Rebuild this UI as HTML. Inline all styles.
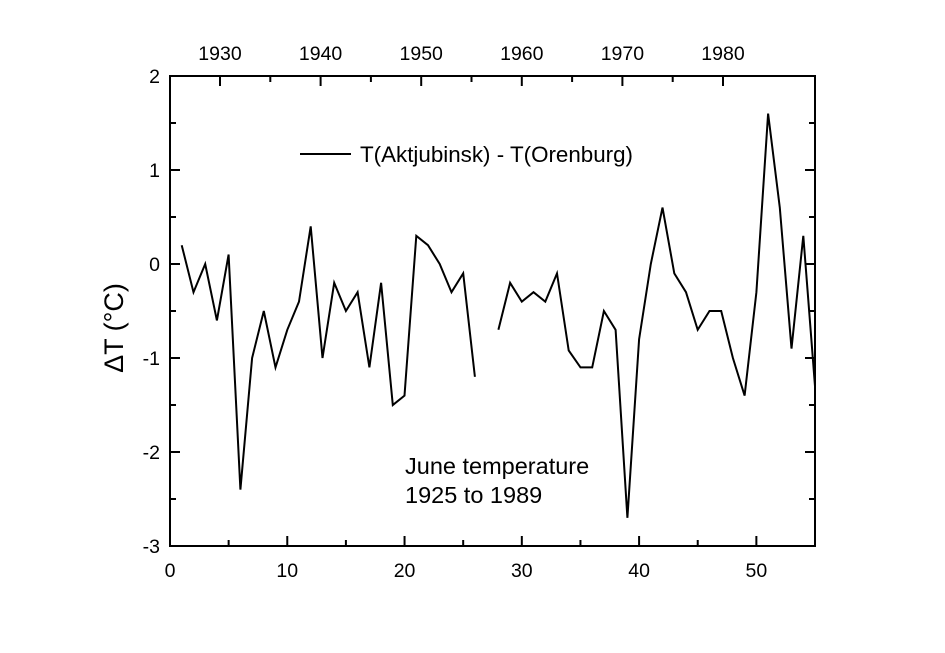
<!DOCTYPE html>
<html><head><meta charset="utf-8">
<style>
html,body{margin:0;padding:0;background:#fff;}
svg{display:block;font-family:"Liberation Sans",Arial,sans-serif;}
</style></head>
<body>
<svg id="chart" width="945" height="653" viewBox="0 0 945 653" xmlns="http://www.w3.org/2000/svg">
<rect x="0" y="0" width="945" height="653" fill="#fff"/>
<g id="axes"></g>
<g id="series"></g>
<text x="0" y="0" transform="translate(123,328) rotate(-90)" text-anchor="middle" font-size="27">ΔT (°C)</text>
<line x1="300" y1="154" x2="351" y2="154" stroke="#000" stroke-width="2"/>
<text x="360" y="162" font-size="22" textLength="273" lengthAdjust="spacingAndGlyphs">T(Aktjubinsk) - T(Orenburg)</text>
<text x="405" y="474" font-size="23.5">June temperature</text>
<text x="405" y="503" font-size="23.5">1925 to 1989</text>
</svg>
<script>
const xValues = [1,2,3,4,5,6,7,8,9,10,11,12,13,14,15,16,17,18,19,20,21,22,23,24,25,26,27,28,29,30,31,32,33,34,35,36,37,38,39,40,41,42,43,44,45,46,47,48,49,50,51,52,53,54,55];
const dtValues = [0.2,-0.3,0,-0.6,0.1,-2.4,-1.0,-0.5,-1.1,-0.7,-0.4,0.4,-1.0,-0.2,-0.5,-0.3,-1.1,-0.2,-1.5,-1.4,0.3,0.2,0.0,-0.3,-0.1,-1.2,null,-0.7,-0.2,-0.4,-0.3,-0.4,-0.1,-0.92,-1.1,-1.1,-0.5,-0.7,-2.7,-0.8,0.0,0.6,-0.1,-0.3,-0.7,-0.5,-0.5,-1.0,-1.4,-0.3,1.6,0.6,-0.9,0.3,-1.3];
const xTickLabels = ["0","10","20","30","40","50"];
const yTickLabels = ["2","1","0","-1","-2","-3"];
const yearLabels = ["1930","1940","1950","1960","1970","1980"];

const NS="http://www.w3.org/2000/svg";
const L=170,R=815,T=76,B=546;
const XMIN=0,XMAX=55,YMIN=-3,YMAX=2;
function sx(v){return L+(v-XMIN)/(XMAX-XMIN)*(R-L);}
function sy(v){return B-(v-YMIN)/(YMAX-YMIN)*(B-T);}
function syear(y){return 220+(y-1930)*10.06;}
function mk(tag,attrs,parent){const e=document.createElementNS(NS,tag);for(const k in attrs)e.setAttribute(k,attrs[k]);parent.appendChild(e);return e;}
const ax=document.getElementById('axes');
const frame=mk('rect',{x:L,y:T,width:R-L,height:B-T,fill:'none',stroke:'#000','stroke-width':2},ax);


for(let v=0;v<=55;v+=5){
  const len=(v%10===0)?10:6;
  const t=mk('line',{x1:sx(v),y1:B,x2:sx(v),y2:B-len,stroke:'#000','stroke-width':2},ax);
  
  
}
xTickLabels.forEach(s=>{
  const t=mk('text',{x:sx(+s),y:B+31,'text-anchor':'middle','font-size':19.5},ax);
  
  
  t.textContent=s;
});
for(let v=-3;v<=2.001;v+=0.5){
  const len=(Math.abs(v-Math.round(v))<0.01)?10:6;
  const a=mk('line',{x1:L,y1:sy(v),x2:L+len,y2:sy(v),stroke:'#000','stroke-width':2},ax);
  
  
  const b=mk('line',{x1:R,y1:sy(v),x2:R-len,y2:sy(v),stroke:'#000','stroke-width':2},ax);
  
  
}
yTickLabels.forEach(s=>{
  const t=mk('text',{x:L-10,y:sy(+s)+7,'text-anchor':'end','font-size':19.5},ax);
  
  
  t.textContent=s;
});
for(let y=1930;y<=1980;y+=5){
  const len=(y%10===0)?10:6;
  const t=mk('line',{x1:syear(y),y1:T,x2:syear(y),y2:T+len,stroke:'#000','stroke-width':2},ax);
  
  
}
yearLabels.forEach(s=>{
  const t=mk('text',{x:syear(+s),y:T-16,'text-anchor':'middle','font-size':19.5},ax);
  
  
  t.textContent=s;
});
const sg=document.getElementById('series');
let d='',pen=false;
for(let i=0;i<xValues.length;i++){
  const v=dtValues[i];
  if(v===null||v===undefined){pen=false;continue;}
  d+=(pen?'L':'M')+sx(xValues[i]).toFixed(1)+','+sy(v).toFixed(1);
  pen=true;
}
const p=mk('path',{d:d,fill:'none',stroke:'#000','stroke-width':2,'stroke-linejoin':'miter'},sg);


</script>
</body></html>
